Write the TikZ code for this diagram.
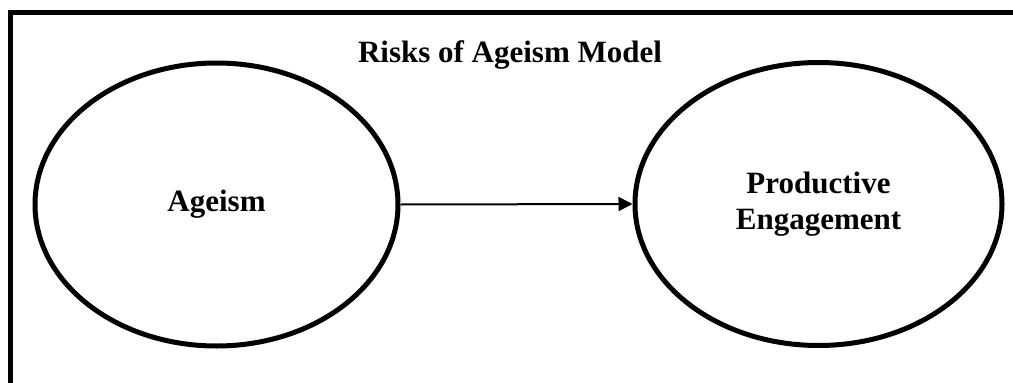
\documentclass[tikz,border=0pt]{standalone}
\usepackage{fontspec}
\setmainfont{Liberation Serif}
\usetikzlibrary{shapes.geometric,arrows.meta}
\begin{document}
\begin{tikzpicture}[x=1pt,y=1pt,
  oval/.style={draw=black,line width=5pt,ellipse,inner sep=0pt,align=center,
    font=\fontsize{31}{36}\selectfont\bfseries},
  title/.style={font=\fontsize{31}{36}\selectfont\bfseries,inner sep=0pt,anchor=base},
  conn/.style={draw=black,line width=2pt,-{Triangle[length=14pt,width=14pt]}},
  frame/.style={draw=black,line width=5.5pt,line join=miter}]
\path[use as bounding box] (0,0) rectangle (1013,-383);
\draw[frame] (10.5,-383) -- (10.5,-12.5) -- (1013,-12.5);
\node[title] (t) at (510,-62) {Risks of Ageism Model};
\node[oval,minimum width=363pt,minimum height=283pt] (a) at (216.5,-204.5) {\raisebox{-3pt}{Ageism}};
\node[oval,minimum width=367pt,minimum height=283pt] (b) at (818.5,-204) {Productive\\Engagement};
\draw[conn] (a.east) -- (b.west);
\end{tikzpicture}
\end{document}
